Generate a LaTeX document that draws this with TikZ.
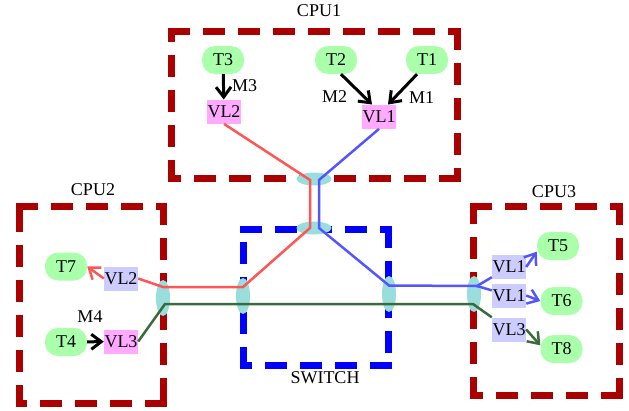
\documentclass[tikz,border=0pt]{standalone}
\usepackage{fontspec}
\setmainfont{Liberation Serif}
\usetikzlibrary{arrows.meta,shapes.geometric,calc}
\definecolor{boxred}{HTML}{AA0000}
\definecolor{swblue}{HTML}{0000FF}
\definecolor{ellc}{HTML}{99DDDD}
\definecolor{tgreen}{HTML}{AAFFAA}
\definecolor{vlpink}{HTML}{FFAAFF}
\definecolor{vllav}{HTML}{CCCCFF}
\definecolor{lred}{HTML}{FF5555}
\definecolor{lblue}{HTML}{5555FF}
\definecolor{lgreen}{HTML}{3A6B3A}
\newcommand\cpubox[5]{%
  \draw[side,#1] (#2,#3) -- (#4,#3);
  \draw[side,#1] (#4,#3) -- (#4,#5);
  \draw[side,#1] (#4,#5) -- (#2,#5);
  \draw[side,#1] (#2,#5) -- (#2,#3);
}
\begin{document}
\begin{tikzpicture}[x=1pt,y=-1pt,
  font=\fontsize{18}{20}\selectfont,
  side/.style={line width=7pt, dash pattern=on 15pt off 20pt, line cap=rect},
  task/.style={fill=tgreen, rounded corners=13pt, minimum width=42pt, minimum height=28pt, inner sep=1pt},
  vlp/.style={fill=vlpink, minimum width=32pt, minimum height=24pt, inner sep=0.5pt},
  vll/.style={fill=vllav, minimum width=32pt, minimum height=24pt, inner sep=0.5pt},
  hub/.style={ellipse, fill=ellc, inner sep=0pt, minimum width=14pt, minimum height=36pt},
  vhub/.style={ellipse, fill=ellc, inner sep=0pt, minimum width=35pt, minimum height=13pt},
  msg/.style={-{Straight Barb[length=10pt,width=15pt]}, line width=3pt},
  vlink/.style={line width=2.5pt},
  vlarrow/.style={line width=2.5pt, -{Straight Barb[length=10pt,width=15pt]}},
  lbl/.style={inner sep=0pt},
]
\useasboundingbox (0,0) rectangle (629,410);
% boxes
\cpubox{boxred}{171}{31}{457.5}{178}
\cpubox{boxred}{19}{206}{163}{403}
\cpubox{boxred}{473.7}{206}{619}{395}
\cpubox{swblue}{243}{229}{388}{365}
% hubs
\node[vhub] (e1) at (314,179) {};
\node[vhub] (e2) at (314,228) {};
\node[hub] (e3) at (163,298) {};
\node[hub] (e4) at (243,296) {};
\node[hub] (e5) at (389,294) {};
\node[hub] (e6) at (474,294) {};
% tasks
\node[task] (t3) at (223,60) {T3};
\node[task] (t2) at (336,60) {T2};
\node[task] (t1) at (427,60) {T1};
\node[task] (t7) at (66,266.5) {T7};
\node[task] (t4) at (66,342) {T4};
\node[task] (t5) at (558,246) {T5};
\node[task] (t6) at (561.5,301) {T6};
\node[task] (t8) at (561.5,349) {T8};
% virtual links
\node[vlp] (vl2a) at (224,111.7) {VL2};
\node[vlp] (vl1a) at (379,116.7) {VL1};
\node[vll] (vl2b) at (121,278.5) {VL2};
\node[vlp] (vl3a) at (121,341.5) {VL3};
\node[vll] (vl1b) at (509,267) {VL1};
\node[vll] (vl1c) at (509,295.5) {VL1};
\node[vll] (vl3b) at (509,329.5) {VL3};
% bend points
\coordinate (r1) at (310,180);
\coordinate (r2) at (310,228);
\coordinate (r3) at (243,287);
\coordinate (r4) at (163,287);
\coordinate (b1) at (319,180);
\coordinate (b2) at (319,228);
\coordinate (b3) at (389,285.5);
\coordinate (b4) at (477,286);
\coordinate (g1) at (165,304);
\coordinate (g2) at (473,304);
% links
\draw[vlink,lred] (vl2a.south) -- (r1) -- (r2) -- (r3) -- (r4) -- (vl2b.east);
\draw[vlarrow,lred] (vl2b.west) -- (t7.east);
\draw[vlink,lblue] (vl1a.south) -- (b1) -- (b2) -- (b3) -- (b4) -- (vl1b);
\draw[vlink,lblue] (b4) -- (vl1c);
\draw[vlarrow,lblue] (vl1b.east) -- (t5.-165);
\draw[vlarrow,lblue] (vl1c.east) -- (t6.west);
\draw[vlink,lgreen] (vl3a.east) -- (g1) -- (g2) -- (vl3b);
\draw[vlarrow,lgreen] (vl3b.east) -- (t8.170);
% messages
\draw[msg] (t3) -- (vl2a);
\draw[msg] ($(t2.south)+(5,0)$) -- ($(vl1a.north)+(-7,0)$);
\draw[msg] ($(t1.south)+(-10,0)$) -- ($(vl1a.north)+(9,0)$);
\draw[msg] (t4) -- (vl3a);
% labels
\node[lbl] (m3) at (244.5,86) {M3};
\node[lbl] (m2) at (334.5,96.5) {M2};
\node[lbl] (m1) at (421.7,97.5) {M1};
\node[lbl] (m4) at (90,317) {M4};
\node[lbl] (c1) at (319,11) {CPU1};
\node[lbl] (c2) at (93,190) {CPU2};
\node[lbl] (c3) at (554,192) {CPU3};
\node[lbl] (sw) at (325,377.5) {SWITCH};
\end{tikzpicture}
\end{document}
